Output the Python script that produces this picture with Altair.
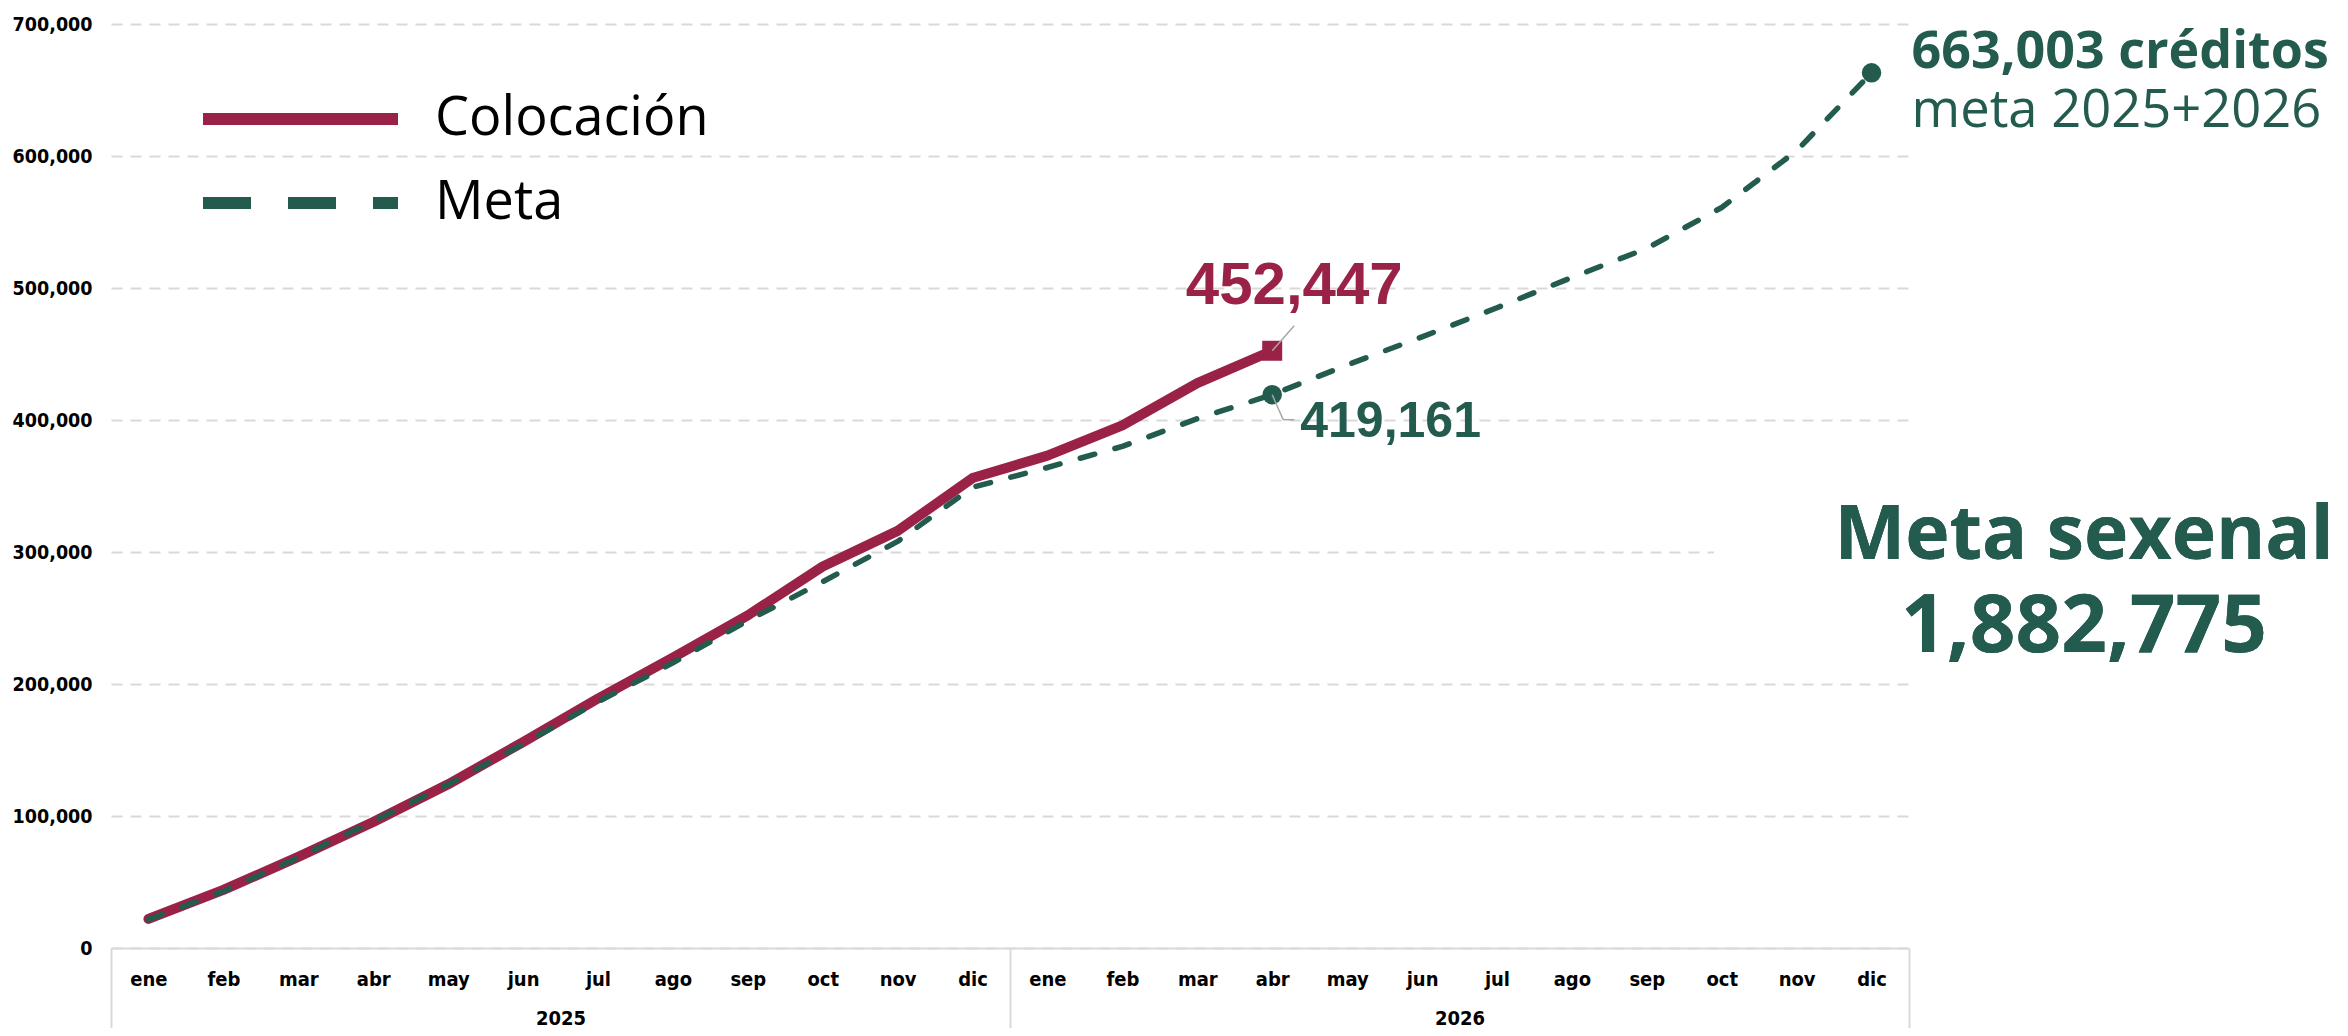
import altair as alt
import pandas as pd

# ---------------- data ----------------
meses = ["ene", "feb", "mar", "abr", "may", "jun", "jul", "ago", "sep", "oct", "nov", "dic"]
anios = ["2025", "2026"]
series = ["Colocación", "Meta"]
colores = ["#9B2247", "#235B4E"]

colocacion = [22000, 44000, 69000, 95500, 124000, 156000, 189000, 220000,
              252000, 289000, 316000, 356000, 373000, 396000, 428000, 452447]
meta = [21500, 43000, 68500, 96000, 124000, 154500, 186500, 216000,
        248000, 277500, 308000, 349000, 364000, 380000, 401000, 419161,
        441700, 463000, 485000, 508000, 530000, 561000, 604000, 663003]

y_ticks = [0, 100000, 200000, 300000, 400000, 500000, 600000, 700000]
meta_sexenal_titulo = "Meta sexenal"
meta_sexenal_valor = "1,882,775"
sufijo_meta = " créditos"
texto_meta_anual = "meta 2025+2026"

periodos = [f"{m} {a}" for a in anios for m in meses]
ultimo_real = periodos[len(colocacion) - 1]
ultimo_meta = periodos[len(meta) - 1]

rows = []
for p, v in zip(periodos, colocacion):
    rows.append({"periodo": p, "serie": series[0], "valor": v})
for p, v in zip(periodos, meta):
    rows.append({"periodo": p, "serie": series[1], "valor": v})
df = pd.DataFrame(rows)
df_anios = pd.DataFrame({"anio": anios})

FONT_AX = "DejaVu Sans Condensed"
FONT_TXT = "Open Sans"
FONT_NUM = "Liberation Sans"
GRID = "#d9d9d9"

# ---------------- encodings ----------------
x_enc = alt.X(
    "periodo:N", sort=periodos,
    scale=alt.Scale(type="point", padding=0.5),
    axis=alt.Axis(title=None, labelExpr="split(datum.label, ' ')[0]", labelAngle=0,
                  ticks=False, domain=True, domainColor=GRID, domainWidth=2,
                  labelFont=FONT_AX, labelFontSize=20, labelFontWeight="bold",
                  labelColor="#000", labelPadding=21, grid=False),
)
y_enc = alt.Y(
    "valor:Q",
    scale=alt.Scale(domain=[0, 700000], nice=False),
    axis=alt.Axis(title=None, values=y_ticks, labelExpr="format(datum.value, ',')",
                  ticks=False, domain=False,
                  labelFont=FONT_AX, labelFontSize=19.5, labelFontWeight="bold",
                  labelColor="#000", labelPadding=19, grid=True, gridColor=GRID,
                  gridDash=[11, 8], gridWidth=2),
)

leg = alt.Legend(
    orient="none", legendX=86, legendY=60, title=None, direction="vertical",
    symbolType="stroke", symbolSize=38025, symbolStrokeWidth=12,
    labelFont=FONT_TXT, labelFontSize=54, labelColor="#000", labelOffset=31,
    labelLimit=600, clipHeight=70, rowPadding=14, padding=0,
)

base = alt.Chart(df)

# legend-only layer (draws nothing, keeps the legend of both series)
leyenda = base.transform_filter("false").mark_line(strokeWidth=12, strokeCap="butt").encode(
    x=x_enc, y=y_enc,
    color=alt.Color("serie:N", scale=alt.Scale(domain=series, range=colores), legend=leg),
    strokeDash=alt.StrokeDash("serie:N", scale=alt.Scale(domain=series, range=[[1, 0], [48, 37]]), legend=leg),
)

linea_real = base.transform_filter(alt.datum.serie == series[0]).mark_line(
    strokeWidth=10, strokeCap="round", strokeJoin="round", color=colores[0]
).encode(x=x_enc, y=y_enc)

linea_meta = base.transform_filter(alt.datum.serie == series[1]).mark_line(
    strokeWidth=5.5, strokeCap="round", strokeJoin="round", strokeDash=[15, 21], color=colores[1]
).encode(x=x_enc, y=y_enc)

punto_real = base.transform_filter(
    (alt.datum.serie == series[0]) & (alt.datum.periodo == ultimo_real)
).mark_point(shape="square", filled=True, size=400, opacity=1, color=colores[0]).encode(x=x_enc, y=y_enc)

puntos_meta = base.transform_filter(
    (alt.datum.serie == series[1]) & ((alt.datum.periodo == ultimo_real) | (alt.datum.periodo == ultimo_meta))
).mark_circle(size=380, opacity=1, color=colores[1]).encode(x=x_enc, y=y_enc)

guia_real = base.transform_filter(
    (alt.datum.serie == series[0]) & (alt.datum.periodo == ultimo_real)
).mark_rule(color="#a6a6a6", strokeWidth=1.5, x2Offset=22, y2Offset=-25).encode(
    x=x_enc, y=y_enc, x2="periodo:N", y2="valor:Q")

sel_meta_abr = (alt.datum.serie == series[1]) & (alt.datum.periodo == ultimo_real)
guia_meta1 = base.transform_filter(sel_meta_abr).mark_rule(
    color="#a6a6a6", strokeWidth=1.5, x2Offset=11, y2Offset=25
).encode(x=x_enc, y=y_enc, x2="periodo:N", y2="valor:Q")
guia_meta2 = base.transform_filter(sel_meta_abr).mark_rule(
    color="#a6a6a6", strokeWidth=1.5, xOffset=11, yOffset=25, x2Offset=22, y2Offset=25
).encode(x=x_enc, y=y_enc, x2="periodo:N", y2="valor:Q")

txt_real = base.transform_filter(
    (alt.datum.serie == series[0]) & (alt.datum.periodo == ultimo_real)
).mark_text(font=FONT_NUM, fontSize=60, fontWeight="bold", color=colores[0],
            align="center", baseline="alphabetic", dx=22, dy=-47
).encode(x=x_enc, y=y_enc, text=alt.Text("valor:Q", format=","))

txt_meta_abr = base.transform_filter(sel_meta_abr).mark_text(
    font=FONT_NUM, fontSize=50, fontWeight="bold", color=colores[1],
    align="left", baseline="alphabetic", dx=28, dy=42
).encode(x=x_enc, y=y_enc, text=alt.Text("valor:Q", format=","))

sel_meta_fin = (alt.datum.serie == series[1]) & (alt.datum.periodo == ultimo_meta)
txt_meta_fin = base.transform_filter(sel_meta_fin).transform_calculate(
    etiqueta=f"format(datum.valor, ',') + '{sufijo_meta}'"
).mark_text(font=FONT_TXT, fontSize=52, fontWeight="bold", color=colores[1],
            align="left", baseline="alphabetic", dx=40, dy=-5
).encode(x=x_enc, y=y_enc, text="etiqueta:N")

txt_meta_fin2 = base.transform_filter(sel_meta_fin).mark_text(
    font=FONT_TXT, fontSize=52.5, fontWeight="normal", color=colores[1],
    align="left", baseline="alphabetic", dx=40, dy=54, text=texto_meta_anual
).encode(x=x_enc, y=y_enc)

# white box behind the big annotation (hides the gridline like the original text box)
caja = alt.Chart(df_anios).mark_rect(color="white").encode(
    x=alt.value(1603), x2=alt.value(1800), y=alt.value(470), y2=alt.value(650))

sexenal1 = alt.Chart(df_anios).mark_text(
    font=FONT_TXT, fontSize=75, fontWeight="bold", color=colores[1],
    align="center", baseline="alphabetic", text=meta_sexenal_titulo
).encode(x=alt.value(1973), y=alt.value(535))
sexenal2 = alt.Chart(df_anios).mark_text(
    font=FONT_TXT, fontSize=80, fontWeight="bold", color=colores[1],
    align="center", baseline="alphabetic", text=meta_sexenal_valor
).encode(x=alt.value(1973), y=alt.value(628))

principal = alt.layer(
    caja, leyenda, linea_real, linea_meta, punto_real, puntos_meta,
    guia_real, guia_meta1, guia_meta2,
    txt_real, txt_meta_abr, txt_meta_fin, txt_meta_fin2, sexenal1, sexenal2,
)

anio_axis = alt.Chart(df_anios).mark_point(opacity=0).encode(
    x=alt.X("anio:N", scale=alt.Scale(type="band", paddingInner=0, paddingOuter=0),
            axis=alt.Axis(title=None, orient="bottom", tickBand="extent", ticks=True,
                          tickSize=80, tickColor=GRID, tickWidth=2, domain=False,
                          labelFont=FONT_AX, labelFontSize=20, labelFontWeight="bold",
                          labelColor="#000", labelPadding=-20, labelAngle=0, grid=False)),
    y=alt.value(0),
)

chart = alt.layer(principal, anio_axis).resolve_scale(x="independent").properties(
    width=1798, height=924,
    autosize=alt.AutoSizeParams(type="none"),
    padding={"left": 103, "top": 16, "right": 431, "bottom": 80},
).configure_view(stroke=None)

chart.save("out.html", embed_options={"renderer": "svg", "actions": False})
